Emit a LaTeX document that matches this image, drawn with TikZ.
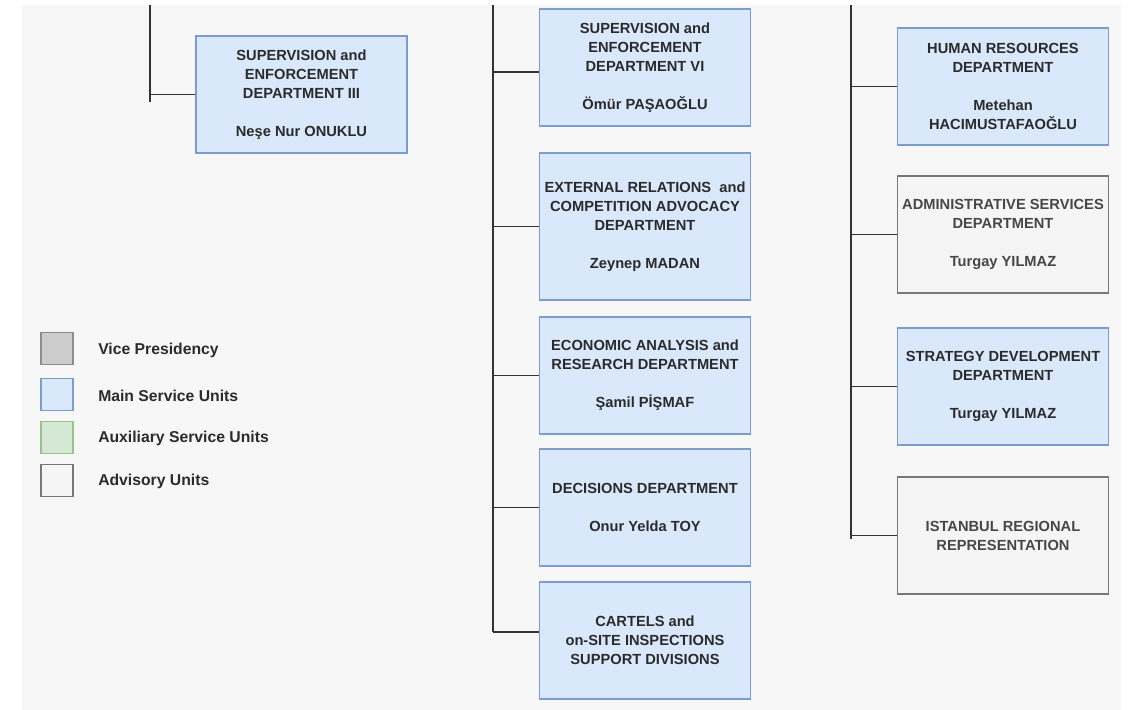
\documentclass[tikz,border=0pt]{standalone}
\usepackage{fontspec}
\setmainfont{Liberation Sans}
\usepackage{xcolor}
\definecolor{mainfill}{HTML}{DAE8FC}
\definecolor{maindraw}{HTML}{7C9CCB}
\definecolor{advfill}{HTML}{F5F5F5}
\definecolor{advdraw}{HTML}{777777}
\definecolor{vpfill}{HTML}{CCCCCC}
\definecolor{vpdraw}{HTML}{8C8C8C}
\definecolor{auxfill}{HTML}{D5E8D4}
\definecolor{auxdraw}{HTML}{97C38A}
\definecolor{panelbg}{HTML}{F7F7F7}
\definecolor{linecol}{HTML}{333333}
\definecolor{textcol}{HTML}{2B2B2B}

\tikzset{
  unit/.style={draw, line width=1.1pt, align=center, inner sep=0pt,
    minimum width=158.25pt, minimum height=87.75pt,
    font=\fontsize{11}{14.25}\selectfont\bfseries, text=textcol},
  mainunit/.style={unit, fill=mainfill, draw=maindraw},
  advunit/.style={unit, fill=advfill, draw=advdraw, text=black!72},
  branch/.style={line width=1.3pt, draw=linecol},
  legbox/.style={draw, line width=1.1pt, minimum size=24pt, inner sep=0pt},
  legtext/.style={anchor=west, inner sep=0pt, text=textcol,
    font=\fontsize{11.8}{14}\selectfont\bfseries}
}

\begin{document}
\begin{tikzpicture}[x=0.75pt, y=-0.75pt]
        % 背景
        \useasboundingbox (0,0) rectangle (1133,710);
        \fill[white] (0,0) rectangle (1133,710);
        \fill[panelbg] (22,5) rectangle (1121,710);

        % 三条竖线的端点
        \coordinate (l1) at (150,5);
        \coordinate (l2) at (150,102);
        \coordinate (m1) at (493,5);
        \coordinate (m2) at (493,632);
        \coordinate (r1) at (851,5);
        \coordinate (r2) at (851,539);

        % 左列
        \node[mainunit] (se3) at (301.5,94.5)
          {SUPERVISION and\\ENFORCEMENT\\DEPARTMENT III\\[14.25pt]Neşe Nur ONUKLU};

        % 中列
        \node[mainunit] (se6) at (645,67.5)
          {SUPERVISION and\\ENFORCEMENT\\DEPARTMENT VI\\[14.25pt]Ömür PAŞAOĞLU};
        \node[mainunit, minimum height=110.25pt] (extrel) at (645,226.5)
          {EXTERNAL RELATIONS\ \ and\\COMPETITION ADVOCACY\\DEPARTMENT\\[14.25pt]Zeynep MADAN};
        \node[mainunit] (econ) at (645,375.5)
          {ECONOMIC ANALYSIS and\\RESEARCH DEPARTMENT\\[14.25pt]Şamil PİŞMAF};
        \node[mainunit] (dec) at (645,507.5)
          {DECISIONS DEPARTMENT\\[14.25pt]Onur Yelda TOY};
        \node[mainunit] (cart) at (645,640.5)
          {CARTELS and\\on-SITE INSPECTIONS\\SUPPORT DIVISIONS};

        % 右列
        \node[mainunit] (hr) at (1003,86.5)
          {HUMAN RESOURCES\\DEPARTMENT\\[14.25pt]Metehan\\HACIMUSTAFAOĞLU};
        \node[advunit] (adm) at (1003,234.5)
          {ADMINISTRATIVE SERVICES\\DEPARTMENT\\[14.25pt]Turgay YILMAZ};
        \node[mainunit] (strat) at (1003,386.5)
          {STRATEGY DEVELOPMENT\\DEPARTMENT\\[14.25pt]Turgay YILMAZ};
        \node[advunit] (ist) at (1003,535.5)
          {ISTANBUL REGIONAL\\REPRESENTATION};

        % 连线
        \draw[branch] (l1) -- (l2);
        \draw[branch] (m1) -- (m2);
        \draw[branch] (r1) -- (r2);
        \draw[branch] (se3.west) -- (se3.west -| l1);
        \draw[branch] ([yshift=-3.4pt]se6.west) -- ([yshift=-3.4pt]se6.west -| m1);
        \foreach \u in {extrel,econ,dec}
          \draw[branch] (\u.west) -- (\u.west -| m1);
        \draw[branch] (m2) -- (cart.west |- m2);
        \foreach \u in {hr,adm,strat,ist}
          \draw[branch] (\u.west) -- (\u.west -| r1);

        % 图例
        \node[legbox, fill=vpfill, draw=vpdraw] (kvp) at (57,348.5) {};
        \node[legbox, fill=mainfill, draw=maindraw] (kmain) at (57,394.5) {};
        \node[legbox, fill=auxfill, draw=auxdraw] (kaux) at (57,437.5) {};
        \node[legbox, fill=advfill, draw=advdraw] (kadv) at (57,480.5) {};
        \node[legtext] (tvp) at (98,350) {Vice Presidency};
        \node[legtext] (tmain) at (98,396) {Main Service Units};
        \node[legtext] (taux) at (98,438) {Auxiliary Service Units};
        \node[legtext] (tadv) at (98,481) {Advisory Units};
    \end{tikzpicture}
\end{document}
